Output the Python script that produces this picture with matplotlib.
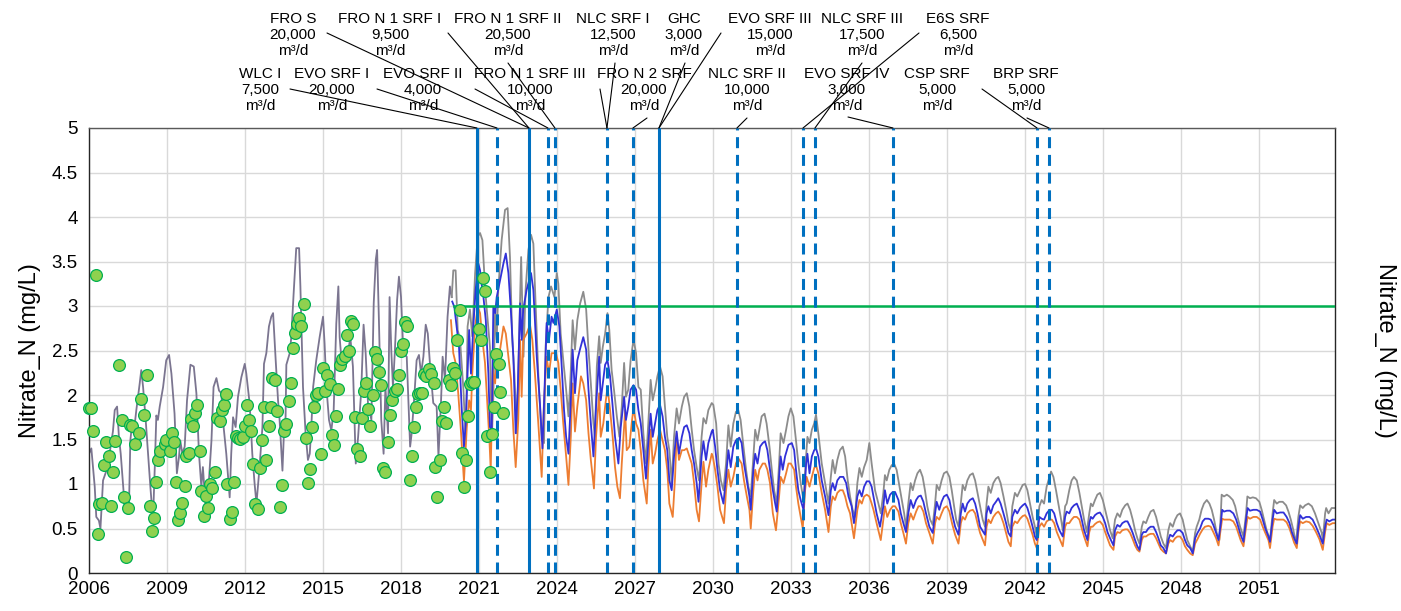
import numpy as np
import matplotlib
matplotlib.use("Agg")
import matplotlib.pyplot as plt
from matplotlib.ticker import FuncFormatter, MultipleLocator

plt.rcParams['font.family'] = ['Liberation Sans', 'DejaVu Sans']

# simulated history (year, mg/L)
gray_hist = [
    (2006.00, 1.34), (2006.09, 1.40), (2006.22, 0.97), (2006.28, 0.63), (2006.38, 0.59), (2006.44, 0.50),
    (2006.54, 1.04), (2006.67, 1.15), (2006.79, 1.34), (2006.92, 1.59), (2006.99, 1.83), (2007.08, 1.87),
    (2007.15, 1.53), (2007.22, 1.34), (2007.37, 0.76), (2007.44, 0.67), (2007.54, 0.78), (2007.59, 1.49),
    (2007.63, 1.60), (2007.72, 1.57), (2007.82, 1.83), (2007.95, 2.13), (2008.01, 2.28), (2008.08, 2.09),
    (2008.18, 1.72), (2008.27, 1.34), (2008.36, 0.97), (2008.46, 0.59), (2008.53, 1.19), (2008.59, 1.77),
    (2008.65, 1.72), (2008.72, 1.87), (2008.85, 2.09), (2008.91, 2.24), (2008.97, 2.39), (2009.08, 2.45),
    (2009.17, 2.24), (2009.29, 1.79), (2009.38, 1.12), (2009.46, 1.30), (2009.51, 1.49), (2009.59, 1.34),
    (2009.68, 1.42), (2009.77, 1.94), (2009.90, 2.34), (2010.03, 2.32), (2010.13, 2.02), (2010.23, 1.34),
    (2010.32, 0.97), (2010.38, 1.19), (2010.45, 0.89), (2010.51, 0.67), (2010.58, 0.89), (2010.71, 1.49),
    (2010.79, 2.09), (2010.90, 2.19), (2011.00, 2.05), (2011.09, 2.02), (2011.15, 1.72), (2011.28, 1.34),
    (2011.41, 0.85), (2011.47, 1.34), (2011.54, 1.75), (2011.64, 1.64), (2011.73, 1.98), (2011.86, 2.20),
    (2011.99, 2.35), (2012.05, 2.24), (2012.18, 1.90), (2012.28, 1.34), (2012.37, 1.00), (2012.44, 0.78),
    (2012.54, 1.12), (2012.67, 1.64), (2012.73, 2.35), (2012.82, 2.47), (2012.92, 2.77), (2013.01, 2.88),
    (2013.08, 2.92), (2013.18, 2.39), (2013.27, 1.94), (2013.33, 1.72), (2013.44, 1.15), (2013.50, 1.60),
    (2013.56, 1.75), (2013.59, 2.34), (2013.72, 2.47), (2013.78, 2.65), (2013.87, 3.14), (2013.97, 3.65),
    (2014.08, 3.65), (2014.13, 3.22), (2014.23, 2.09), (2014.33, 1.57), (2014.42, 1.27), (2014.49, 1.34),
    (2014.55, 1.64), (2014.62, 2.09), (2014.74, 2.39), (2014.87, 2.65), (2015.00, 2.88), (2015.06, 2.58),
    (2015.13, 2.09), (2015.23, 1.72), (2015.32, 1.60), (2015.41, 1.83), (2015.51, 2.80), (2015.59, 3.22),
    (2015.64, 2.65), (2015.74, 2.28), (2015.87, 2.35), (2015.96, 2.47), (2016.05, 2.65), (2016.15, 2.32),
    (2016.26, 1.23), (2016.35, 1.53), (2016.47, 2.05), (2016.56, 2.79), (2016.64, 2.47), (2016.73, 1.90),
    (2016.86, 1.72), (2016.95, 3.03), (2017.03, 3.52), (2017.08, 3.63), (2017.15, 2.84), (2017.24, 1.72),
    (2017.33, 1.34), (2017.40, 2.09), (2017.50, 1.57), (2017.56, 3.10), (2017.63, 2.47), (2017.69, 2.09),
    (2017.76, 2.47), (2017.85, 3.07), (2017.92, 3.33), (2018.00, 3.10), (2018.09, 2.47), (2018.22, 2.43),
    (2018.35, 1.42), (2018.41, 1.57), (2018.51, 1.98), (2018.60, 2.39), (2018.69, 2.45), (2018.77, 2.24),
    (2018.86, 2.43), (2018.95, 2.79), (2019.03, 2.69), (2019.12, 2.32), (2019.24, 1.91), (2019.37, 1.87),
    (2019.44, 1.31), (2019.54, 1.94), (2019.60, 2.43), (2019.69, 2.17), (2019.79, 2.88), (2019.88, 3.22),
    (2019.95, 3.10),
]

# upper projection (gray)
gray_proj = [
    (2019.95, 3.10), (2020.01, 3.40), (2020.10, 3.40), (2020.18, 2.73), (2020.27, 2.62), (2020.40, 2.06),
    (2020.49, 1.49), (2020.56, 2.77), (2020.65, 2.96), (2020.74, 2.66), (2020.85, 3.37), (2020.95, 3.78),
    (2021.04, 3.82), (2021.13, 3.74), (2021.23, 3.22), (2021.29, 2.99), (2021.42, 2.54), (2021.49, 1.49),
    (2021.55, 1.98), (2021.62, 2.99), (2021.68, 2.62), (2021.74, 3.18), (2021.87, 3.74), (2022.00, 4.08),
    (2022.10, 4.10), (2022.19, 3.55), (2022.28, 2.62), (2022.36, 2.24), (2022.45, 1.57), (2022.54, 2.62),
    (2022.62, 3.55), (2022.71, 2.43), (2022.79, 3.18), (2022.90, 3.63), (2023.00, 3.80), (2023.09, 3.70),
    (2023.18, 2.99), (2023.28, 2.24), (2023.41, 1.49), (2023.50, 1.46), (2023.56, 2.54), (2023.67, 3.10),
    (2023.77, 3.22), (2023.90, 3.10), (2023.99, 3.37), (2024.05, 3.25), (2024.14, 2.69), (2024.24, 2.39),
    (2024.35, 2.06), (2024.44, 1.76), (2024.53, 2.28), (2024.60, 2.84), (2024.69, 2.51), (2024.78, 2.84),
    (2024.89, 3.03), (2025.01, 3.16), (2025.12, 2.96), (2025.21, 2.51), (2025.30, 2.13), (2025.40, 1.68),
    (2025.46, 1.53), (2025.53, 2.32), (2025.62, 2.66), (2025.68, 2.36), (2025.76, 2.54), (2025.85, 2.69),
    (2025.94, 2.92), (2026.01, 2.73), (2026.10, 2.28), (2026.19, 2.06), (2026.30, 1.76), (2026.40, 1.53),
    (2026.49, 1.87), (2026.58, 2.36), (2026.65, 1.98), (2026.74, 2.06), (2026.83, 2.39), (2026.94, 2.62),
    (2027.04, 2.47), (2027.13, 2.09), (2027.22, 2.06), (2027.32, 1.57), (2027.42, 1.23), (2027.51, 1.68),
    (2027.60, 2.17), (2027.68, 1.94), (2027.77, 2.06), (2027.86, 2.21), (2027.96, 2.32), (2028.06, 2.21),
    (2028.15, 1.87), (2028.24, 1.53), (2028.32, 1.38), (2028.41, 1.01), (2028.50, 1.53), (2028.60, 1.85),
    (2028.69, 1.68), (2028.80, 1.87), (2028.89, 1.98), (2028.99, 2.02), (2029.09, 1.87), (2029.18, 1.61),
    (2029.27, 1.38), (2029.37, 1.19), (2029.46, 1.04), (2029.56, 1.53), (2029.63, 1.74), (2029.73, 1.68),
    (2029.82, 1.83), (2029.95, 1.91), (2030.01, 1.89), (2030.12, 1.68), (2030.21, 1.23), (2030.30, 1.04),
    (2030.40, 0.93), (2030.50, 1.23), (2030.59, 1.66), (2030.68, 1.42), (2030.78, 1.68), (2030.88, 1.81),
    (2030.97, 1.83), (2031.06, 1.72), (2031.17, 1.42), (2031.27, 1.16), (2031.36, 0.97), (2031.45, 0.86),
    (2031.55, 1.31), (2031.62, 1.61), (2031.71, 1.49), (2031.78, 1.61), (2031.87, 1.76), (2031.98, 1.79),
    (2032.06, 1.68), (2032.17, 1.42), (2032.26, 1.16), (2032.35, 0.93), (2032.45, 0.78), (2032.54, 1.23),
    (2032.60, 1.57), (2032.71, 1.46), (2032.81, 1.61), (2032.90, 1.76), (2032.99, 1.85), (2033.09, 1.76),
    (2033.19, 1.49), (2033.28, 1.23), (2033.37, 1.01), (2033.48, 0.82), (2033.56, 1.23), (2033.63, 1.53),
    (2033.71, 1.46), (2033.80, 1.61), (2033.89, 1.68), (2033.96, 1.78), (2034.05, 1.57), (2034.18, 1.23),
    (2034.31, 1.01), (2034.44, 0.78), (2034.53, 1.08), (2034.60, 1.27), (2034.69, 1.12), (2034.78, 1.27),
    (2034.88, 1.38), (2034.99, 1.42), (2035.08, 1.31), (2035.18, 1.04), (2035.27, 0.86), (2035.37, 0.71),
    (2035.46, 0.63), (2035.55, 1.01), (2035.63, 1.18), (2035.72, 1.08), (2035.81, 1.19), (2035.91, 1.27),
    (2036.01, 1.46), (2036.10, 1.23), (2036.23, 0.93), (2036.36, 0.78), (2036.45, 0.67), (2036.55, 0.90),
    (2036.61, 1.10), (2036.68, 1.04), (2036.78, 1.16), (2036.87, 1.21), (2036.96, 1.23), (2037.06, 1.16),
    (2037.17, 0.97), (2037.26, 0.82), (2037.35, 0.67), (2037.42, 0.52), (2037.51, 0.78), (2037.60, 1.01),
    (2037.68, 0.93), (2037.77, 1.04), (2037.86, 1.12), (2037.96, 1.16), (2038.06, 1.08), (2038.15, 0.93),
    (2038.24, 0.75), (2038.35, 0.60), (2038.45, 0.54), (2038.54, 0.78), (2038.60, 0.99), (2038.70, 0.93),
    (2038.79, 1.04), (2038.88, 1.12), (2038.99, 1.14), (2039.09, 1.08), (2039.18, 0.93), (2039.27, 0.75),
    (2039.35, 0.60), (2039.44, 0.52), (2039.53, 0.78), (2039.60, 0.99), (2039.69, 0.93), (2039.78, 1.04),
    (2039.88, 1.10), (2039.99, 1.12), (2040.08, 1.04), (2040.17, 0.90), (2040.27, 0.75), (2040.37, 0.60),
    (2040.46, 0.52), (2040.52, 0.78), (2040.59, 0.97), (2040.68, 0.90), (2040.78, 1.01), (2040.88, 1.06),
    (2040.97, 1.08), (2041.06, 1.01), (2041.17, 0.86), (2041.27, 0.71), (2041.36, 0.56), (2041.45, 0.48),
    (2041.51, 0.75), (2041.61, 0.90), (2041.70, 0.86), (2041.81, 0.93), (2041.91, 0.99), (2042.00, 1.00),
    (2042.09, 0.93), (2042.19, 0.78), (2042.29, 0.63), (2042.38, 0.52), (2042.45, 0.41), (2042.55, 0.75),
    (2042.64, 0.82), (2042.73, 0.78), (2042.83, 0.97), (2042.94, 1.08), (2043.00, 1.14), (2043.09, 1.08),
    (2043.19, 0.93), (2043.28, 0.78), (2043.37, 0.63), (2043.45, 0.48), (2043.54, 0.75), (2043.60, 0.78),
    (2043.70, 0.93), (2043.79, 1.04), (2043.88, 1.08), (2043.99, 1.04), (2044.09, 0.90), (2044.18, 0.75),
    (2044.27, 0.60), (2044.37, 0.46), (2044.47, 0.67), (2044.53, 0.78), (2044.60, 0.75), (2044.69, 0.82),
    (2044.78, 0.88), (2044.88, 0.90), (2044.99, 0.82), (2045.08, 0.71), (2045.17, 0.60), (2045.27, 0.48),
    (2045.37, 0.39), (2045.46, 0.60), (2045.55, 0.67), (2045.65, 0.63), (2045.74, 0.71), (2045.85, 0.76),
    (2045.94, 0.78), (2046.04, 0.71), (2046.14, 0.60), (2046.23, 0.48), (2046.32, 0.39), (2046.40, 0.33),
    (2046.49, 0.52), (2046.55, 0.58), (2046.65, 0.56), (2046.74, 0.63), (2046.83, 0.69), (2046.94, 0.71),
    (2047.04, 0.63), (2047.13, 0.52), (2047.22, 0.41), (2047.32, 0.33), (2047.42, 0.28), (2047.51, 0.48),
    (2047.58, 0.56), (2047.68, 0.52), (2047.77, 0.60), (2047.86, 0.65), (2047.96, 0.67), (2048.06, 0.60),
    (2048.15, 0.48), (2048.24, 0.37), (2048.35, 0.30), (2048.45, 0.24), (2048.54, 0.45), (2048.60, 0.52),
    (2048.70, 0.60), (2048.79, 0.71), (2048.88, 0.78), (2048.99, 0.82), (2049.09, 0.78), (2049.18, 0.71),
    (2049.27, 0.60), (2049.37, 0.45), (2049.47, 0.37), (2049.53, 0.67), (2049.56, 0.88), (2049.65, 0.86),
    (2049.76, 0.88), (2049.86, 0.86), (2049.99, 0.82), (2050.08, 0.75), (2050.17, 0.63), (2050.27, 0.52),
    (2050.40, 0.41), (2050.50, 0.67), (2050.55, 0.86), (2050.65, 0.84), (2050.76, 0.85), (2050.88, 0.84),
    (2051.01, 0.80), (2051.10, 0.71), (2051.19, 0.60), (2051.29, 0.48), (2051.42, 0.37), (2051.52, 0.67),
    (2051.58, 0.82), (2051.68, 0.78), (2051.78, 0.80), (2051.91, 0.80), (2052.04, 0.76), (2052.13, 0.69),
    (2052.22, 0.60), (2052.32, 0.48), (2052.42, 0.33), (2052.51, 0.63), (2052.58, 0.76), (2052.68, 0.73),
    (2052.77, 0.76), (2052.90, 0.78), (2053.03, 0.75), (2053.15, 0.67), (2053.28, 0.56), (2053.41, 0.45),
    (2053.45, 0.37), (2053.54, 0.67), (2053.58, 0.73), (2053.67, 0.67), (2053.79, 0.73), (2053.92, 0.73),
]

# middle projection (blue)
blue_proj = [
    (2019.97, 3.05), (2020.05, 2.99), (2020.14, 2.77), (2020.23, 2.54), (2020.33, 1.87), (2020.42, 1.42),
    (2020.49, 1.68), (2020.56, 2.24), (2020.62, 2.73), (2020.69, 2.24), (2020.78, 2.77), (2020.87, 3.18),
    (2020.97, 3.48), (2021.04, 3.40), (2021.10, 3.25), (2021.17, 3.10), (2021.26, 2.84), (2021.36, 2.24),
    (2021.42, 1.64), (2021.49, 1.61), (2021.55, 2.99), (2021.62, 2.92), (2021.68, 3.10), (2021.81, 3.29),
    (2021.94, 3.48), (2022.03, 3.59), (2022.13, 3.37), (2022.23, 2.92), (2022.32, 2.43), (2022.41, 1.57),
    (2022.49, 2.06), (2022.58, 3.03), (2022.64, 2.62), (2022.70, 2.96), (2022.83, 3.18), (2023.00, 3.37),
    (2023.09, 3.18), (2023.22, 2.43), (2023.35, 1.87), (2023.44, 1.40), (2023.54, 2.24), (2023.60, 2.81),
    (2023.69, 2.62), (2023.79, 2.88), (2023.86, 2.81), (2023.99, 2.96), (2024.09, 2.77), (2024.18, 2.32),
    (2024.27, 1.83), (2024.35, 1.53), (2024.44, 1.34), (2024.53, 1.94), (2024.60, 2.51), (2024.69, 2.02),
    (2024.78, 2.39), (2024.88, 2.51), (2025.01, 2.65), (2025.12, 2.51), (2025.21, 2.06), (2025.30, 1.68),
    (2025.40, 1.31), (2025.50, 1.87), (2025.62, 2.43), (2025.68, 1.94), (2025.76, 2.13), (2025.85, 2.34),
    (2025.94, 2.39), (2026.04, 2.21), (2026.14, 1.87), (2026.23, 1.53), (2026.36, 1.23), (2026.45, 1.64),
    (2026.58, 1.98), (2026.65, 1.72), (2026.74, 1.87), (2026.83, 2.06), (2026.94, 2.11), (2027.04, 2.06),
    (2027.13, 1.83), (2027.22, 1.68), (2027.32, 1.38), (2027.42, 1.06), (2027.51, 1.46), (2027.60, 1.79),
    (2027.68, 1.53), (2027.77, 1.68), (2027.86, 1.83), (2027.96, 1.89), (2028.06, 1.76), (2028.15, 1.53),
    (2028.24, 1.38), (2028.32, 1.04), (2028.41, 0.93), (2028.50, 1.31), (2028.60, 1.59), (2028.69, 1.34),
    (2028.80, 1.53), (2028.89, 1.64), (2028.99, 1.66), (2029.09, 1.57), (2029.18, 1.38), (2029.27, 1.23),
    (2029.37, 1.01), (2029.44, 0.80), (2029.56, 1.31), (2029.63, 1.48), (2029.73, 1.27), (2029.82, 1.46),
    (2029.95, 1.59), (2029.99, 1.61), (2030.08, 1.42), (2030.17, 1.16), (2030.27, 0.93), (2030.40, 0.78),
    (2030.50, 1.08), (2030.59, 1.38), (2030.68, 1.19), (2030.78, 1.42), (2030.88, 1.49), (2031.01, 1.52),
    (2031.10, 1.46), (2031.19, 1.23), (2031.30, 1.04), (2031.40, 0.86), (2031.45, 0.71), (2031.55, 1.16),
    (2031.62, 1.34), (2031.71, 1.23), (2031.81, 1.42), (2031.91, 1.46), (2032.00, 1.48), (2032.09, 1.38),
    (2032.19, 1.16), (2032.30, 0.93), (2032.39, 0.78), (2032.45, 0.69), (2032.54, 1.08), (2032.60, 1.31),
    (2032.68, 1.16), (2032.77, 1.31), (2032.90, 1.44), (2033.03, 1.46), (2033.12, 1.38), (2033.19, 1.16),
    (2033.28, 0.93), (2033.37, 0.82), (2033.48, 0.71), (2033.58, 1.23), (2033.63, 1.34), (2033.71, 1.12),
    (2033.80, 1.31), (2033.89, 1.38), (2033.96, 1.40), (2034.05, 1.31), (2034.18, 1.04), (2034.31, 0.86),
    (2034.44, 0.65), (2034.53, 0.93), (2034.60, 1.01), (2034.69, 0.93), (2034.78, 1.04), (2034.88, 1.08),
    (2035.01, 1.08), (2035.12, 1.01), (2035.21, 0.86), (2035.33, 0.75), (2035.42, 0.56), (2035.55, 0.86),
    (2035.63, 0.93), (2035.72, 0.86), (2035.81, 0.97), (2035.91, 1.03), (2036.01, 1.03), (2036.10, 0.97),
    (2036.17, 0.86), (2036.29, 0.67), (2036.42, 0.52), (2036.55, 0.75), (2036.61, 0.93), (2036.70, 0.78),
    (2036.81, 0.88), (2036.91, 0.91), (2037.00, 0.91), (2037.13, 0.82), (2037.22, 0.67), (2037.32, 0.56),
    (2037.42, 0.46), (2037.51, 0.67), (2037.60, 0.82), (2037.70, 0.73), (2037.81, 0.82), (2037.90, 0.86),
    (2037.99, 0.87), (2038.09, 0.80), (2038.19, 0.67), (2038.32, 0.52), (2038.45, 0.45), (2038.54, 0.67),
    (2038.60, 0.80), (2038.70, 0.71), (2038.79, 0.80), (2038.88, 0.86), (2038.99, 0.88), (2039.09, 0.82),
    (2039.19, 0.67), (2039.31, 0.52), (2039.44, 0.43), (2039.53, 0.67), (2039.60, 0.78), (2039.69, 0.69),
    (2039.78, 0.78), (2039.88, 0.82), (2039.99, 0.84), (2040.08, 0.78), (2040.17, 0.67), (2040.27, 0.52),
    (2040.46, 0.43), (2040.52, 0.67), (2040.59, 0.75), (2040.68, 0.67), (2040.78, 0.76), (2040.88, 0.80),
    (2040.97, 0.84), (2041.06, 0.78), (2041.17, 0.67), (2041.27, 0.56), (2041.36, 0.45), (2041.45, 0.41),
    (2041.51, 0.63), (2041.61, 0.71), (2041.70, 0.67), (2041.81, 0.73), (2041.91, 0.76), (2042.00, 0.78),
    (2042.09, 0.73), (2042.19, 0.63), (2042.29, 0.52), (2042.38, 0.41), (2042.45, 0.37), (2042.55, 0.63),
    (2042.64, 0.61), (2042.73, 0.60), (2042.83, 0.67), (2042.94, 0.71), (2043.03, 0.71), (2043.12, 0.67),
    (2043.22, 0.56), (2043.32, 0.48), (2043.45, 0.41), (2043.54, 0.63), (2043.60, 0.69), (2043.70, 0.67),
    (2043.79, 0.73), (2043.88, 0.76), (2043.99, 0.78), (2044.09, 0.71), (2044.18, 0.60), (2044.27, 0.48),
    (2044.40, 0.37), (2044.47, 0.56), (2044.53, 0.63), (2044.60, 0.61), (2044.69, 0.65), (2044.78, 0.67),
    (2044.88, 0.68), (2044.99, 0.63), (2045.08, 0.56), (2045.17, 0.46), (2045.27, 0.39), (2045.40, 0.31),
    (2045.46, 0.48), (2045.55, 0.54), (2045.65, 0.52), (2045.74, 0.56), (2045.85, 0.58), (2045.94, 0.58),
    (2046.04, 0.52), (2046.14, 0.45), (2046.23, 0.37), (2046.32, 0.30), (2046.40, 0.26), (2046.49, 0.43),
    (2046.55, 0.46), (2046.65, 0.46), (2046.74, 0.50), (2046.83, 0.52), (2046.94, 0.52), (2047.04, 0.46),
    (2047.13, 0.39), (2047.22, 0.31), (2047.32, 0.28), (2047.42, 0.22), (2047.51, 0.37), (2047.58, 0.43),
    (2047.68, 0.41), (2047.77, 0.45), (2047.86, 0.48), (2047.96, 0.48), (2048.06, 0.45), (2048.15, 0.37),
    (2048.24, 0.31), (2048.35, 0.28), (2048.45, 0.22), (2048.54, 0.39), (2048.63, 0.45), (2048.73, 0.50),
    (2048.83, 0.58), (2048.92, 0.61), (2049.05, 0.61), (2049.14, 0.60), (2049.24, 0.54), (2049.35, 0.45),
    (2049.44, 0.37), (2049.53, 0.56), (2049.58, 0.71), (2049.65, 0.69), (2049.76, 0.70), (2049.88, 0.70),
    (2050.01, 0.67), (2050.12, 0.60), (2050.20, 0.52), (2050.29, 0.43), (2050.40, 0.35), (2050.50, 0.60),
    (2050.56, 0.73), (2050.65, 0.70), (2050.78, 0.71), (2050.91, 0.71), (2051.04, 0.69), (2051.14, 0.60),
    (2051.24, 0.50), (2051.36, 0.41), (2051.42, 0.35), (2051.52, 0.60), (2051.58, 0.71), (2051.68, 0.67),
    (2051.81, 0.68), (2051.94, 0.68), (2052.06, 0.63), (2052.17, 0.56), (2052.26, 0.46), (2052.35, 0.39),
    (2052.45, 0.33), (2052.51, 0.52), (2052.58, 0.65), (2052.68, 0.61), (2052.81, 0.63), (2052.94, 0.63),
    (2053.06, 0.60), (2053.19, 0.52), (2053.32, 0.43), (2053.45, 0.33), (2053.54, 0.52), (2053.60, 0.60),
    (2053.70, 0.58), (2053.83, 0.60), (2053.92, 0.60),
]

# lower projection (orange)
orange_proj = [
    (2019.92, 2.84), (2020.01, 2.47), (2020.10, 2.36), (2020.20, 2.02), (2020.31, 1.57), (2020.42, 1.03),
    (2020.53, 1.64), (2020.62, 1.94), (2020.69, 1.83), (2020.74, 2.24), (2020.85, 2.77), (2020.95, 2.99),
    (2021.04, 2.92), (2021.13, 2.62), (2021.23, 2.36), (2021.29, 2.06), (2021.40, 1.49), (2021.45, 1.16),
    (2021.53, 2.28), (2021.62, 2.13), (2021.68, 2.47), (2021.81, 2.51), (2021.94, 2.77), (2022.03, 2.69),
    (2022.13, 2.43), (2022.23, 2.17), (2022.32, 1.61), (2022.41, 1.19), (2022.51, 1.72), (2022.58, 2.62),
    (2022.64, 1.98), (2022.70, 2.62), (2022.83, 2.69), (2022.96, 2.79), (2023.05, 2.62), (2023.15, 2.24),
    (2023.28, 1.68), (2023.41, 1.08), (2023.50, 1.94), (2023.60, 2.43), (2023.69, 2.24), (2023.79, 2.47),
    (2023.96, 2.47), (2024.05, 2.36), (2024.14, 2.06), (2024.24, 1.68), (2024.35, 1.31), (2024.44, 0.99),
    (2024.53, 1.53), (2024.60, 2.13), (2024.69, 1.59), (2024.78, 1.87), (2024.92, 2.21), (2025.01, 2.13),
    (2025.12, 1.94), (2025.21, 1.57), (2025.30, 1.27), (2025.42, 0.95), (2025.50, 1.53), (2025.62, 2.02),
    (2025.68, 1.53), (2025.78, 1.68), (2025.85, 1.87), (2025.94, 2.09), (2026.04, 1.83), (2026.14, 1.53),
    (2026.23, 1.19), (2026.32, 0.97), (2026.42, 0.84), (2026.49, 1.23), (2026.62, 1.83), (2026.68, 1.38),
    (2026.78, 1.42), (2026.87, 1.68), (2026.94, 1.85), (2027.04, 1.68), (2027.13, 1.61), (2027.22, 1.38),
    (2027.32, 1.04), (2027.45, 0.78), (2027.51, 1.19), (2027.60, 1.61), (2027.68, 1.23), (2027.77, 1.34),
    (2027.86, 1.49), (2027.96, 1.61), (2028.06, 1.49), (2028.15, 1.38), (2028.24, 1.16), (2028.32, 0.78),
    (2028.45, 0.63), (2028.54, 1.08), (2028.60, 1.57), (2028.69, 1.27), (2028.80, 1.38), (2028.89, 1.38),
    (2028.99, 1.40), (2029.09, 1.31), (2029.18, 1.23), (2029.27, 1.01), (2029.37, 0.71), (2029.46, 0.58),
    (2029.56, 1.01), (2029.63, 1.25), (2029.73, 0.97), (2029.82, 1.16), (2029.95, 1.34), (2029.99, 1.31),
    (2030.08, 1.16), (2030.17, 0.97), (2030.27, 0.71), (2030.42, 0.56), (2030.50, 0.93), (2030.59, 1.16),
    (2030.68, 0.97), (2030.78, 1.08), (2030.88, 1.23), (2030.97, 1.29), (2031.10, 1.23), (2031.19, 1.04),
    (2031.30, 0.86), (2031.40, 0.71), (2031.45, 0.50), (2031.55, 0.93), (2031.62, 1.16), (2031.71, 1.04),
    (2031.78, 1.16), (2031.91, 1.23), (2032.00, 1.23), (2032.09, 1.16), (2032.19, 1.01), (2032.30, 0.67),
    (2032.42, 0.48), (2032.54, 0.86), (2032.60, 1.08), (2032.71, 1.01), (2032.81, 1.12), (2032.90, 1.23),
    (2032.99, 1.23), (2033.12, 1.16), (2033.19, 0.97), (2033.28, 0.78), (2033.37, 0.63), (2033.45, 0.50),
    (2033.54, 0.93), (2033.60, 1.08), (2033.71, 0.97), (2033.80, 1.08), (2033.89, 1.18), (2033.96, 1.21),
    (2034.05, 1.12), (2034.18, 0.90), (2034.31, 0.71), (2034.44, 0.46), (2034.53, 0.75), (2034.60, 0.86),
    (2034.69, 0.82), (2034.78, 0.90), (2034.88, 0.93), (2034.99, 0.93), (2035.08, 0.86), (2035.17, 0.75),
    (2035.27, 0.67), (2035.42, 0.39), (2035.55, 0.71), (2035.63, 0.82), (2035.72, 0.78), (2035.81, 0.86),
    (2035.91, 0.88), (2036.01, 0.86), (2036.10, 0.78), (2036.17, 0.71), (2036.29, 0.56), (2036.45, 0.37),
    (2036.55, 0.60), (2036.61, 0.75), (2036.70, 0.63), (2036.81, 0.71), (2036.91, 0.75), (2037.00, 0.75),
    (2037.13, 0.69), (2037.22, 0.56), (2037.32, 0.45), (2037.42, 0.33), (2037.51, 0.56), (2037.60, 0.67),
    (2037.70, 0.60), (2037.81, 0.69), (2037.90, 0.75), (2037.99, 0.75), (2038.09, 0.69), (2038.19, 0.56),
    (2038.32, 0.45), (2038.45, 0.33), (2038.54, 0.56), (2038.60, 0.63), (2038.70, 0.60), (2038.79, 0.67),
    (2038.88, 0.73), (2038.99, 0.75), (2039.09, 0.69), (2039.19, 0.56), (2039.31, 0.43), (2039.44, 0.33),
    (2039.53, 0.56), (2039.60, 0.63), (2039.69, 0.60), (2039.78, 0.67), (2039.88, 0.70), (2039.99, 0.71),
    (2040.08, 0.67), (2040.17, 0.56), (2040.27, 0.45), (2040.46, 0.31), (2040.52, 0.52), (2040.59, 0.60),
    (2040.68, 0.56), (2040.78, 0.63), (2040.88, 0.67), (2040.97, 0.69), (2041.06, 0.65), (2041.17, 0.56),
    (2041.27, 0.45), (2041.36, 0.35), (2041.45, 0.30), (2041.51, 0.52), (2041.61, 0.58), (2041.70, 0.56),
    (2041.81, 0.61), (2041.91, 0.64), (2042.00, 0.65), (2042.09, 0.61), (2042.19, 0.52), (2042.29, 0.43),
    (2042.38, 0.33), (2042.45, 0.28), (2042.55, 0.52), (2042.64, 0.56), (2042.73, 0.52), (2042.83, 0.58),
    (2042.94, 0.60), (2043.03, 0.60), (2043.12, 0.56), (2043.22, 0.46), (2043.32, 0.39), (2043.45, 0.30),
    (2043.54, 0.52), (2043.60, 0.56), (2043.70, 0.56), (2043.79, 0.60), (2043.88, 0.63), (2043.99, 0.63),
    (2044.09, 0.60), (2044.18, 0.50), (2044.27, 0.41), (2044.40, 0.30), (2044.47, 0.46), (2044.53, 0.52),
    (2044.60, 0.52), (2044.69, 0.55), (2044.78, 0.57), (2044.88, 0.58), (2044.99, 0.54), (2045.08, 0.46),
    (2045.17, 0.39), (2045.27, 0.31), (2045.40, 0.26), (2045.46, 0.41), (2045.55, 0.46), (2045.65, 0.45),
    (2045.74, 0.48), (2045.85, 0.49), (2045.94, 0.49), (2046.04, 0.45), (2046.14, 0.38), (2046.23, 0.31),
    (2046.32, 0.26), (2046.40, 0.24), (2046.49, 0.37), (2046.55, 0.41), (2046.65, 0.41), (2046.74, 0.43),
    (2046.83, 0.44), (2046.94, 0.44), (2047.04, 0.39), (2047.13, 0.33), (2047.22, 0.27), (2047.32, 0.24),
    (2047.42, 0.22), (2047.51, 0.33), (2047.58, 0.37), (2047.68, 0.35), (2047.77, 0.39), (2047.86, 0.41),
    (2047.96, 0.41), (2048.06, 0.37), (2048.15, 0.30), (2048.24, 0.26), (2048.35, 0.22), (2048.45, 0.20),
    (2048.54, 0.33), (2048.63, 0.38), (2048.73, 0.44), (2048.83, 0.49), (2048.92, 0.52), (2049.05, 0.53),
    (2049.14, 0.52), (2049.24, 0.46), (2049.35, 0.39), (2049.44, 0.31), (2049.53, 0.50), (2049.58, 0.61),
    (2049.65, 0.60), (2049.76, 0.60), (2049.88, 0.60), (2050.01, 0.58), (2050.12, 0.52), (2050.20, 0.45),
    (2050.29, 0.37), (2050.40, 0.30), (2050.50, 0.52), (2050.56, 0.63), (2050.65, 0.61), (2050.78, 0.63),
    (2050.91, 0.63), (2051.04, 0.60), (2051.14, 0.52), (2051.24, 0.45), (2051.36, 0.37), (2051.42, 0.28),
    (2051.52, 0.52), (2051.58, 0.61), (2051.68, 0.60), (2051.81, 0.60), (2051.94, 0.60), (2052.06, 0.57),
    (2052.17, 0.50), (2052.26, 0.42), (2052.35, 0.34), (2052.45, 0.28), (2052.51, 0.46), (2052.58, 0.58),
    (2052.68, 0.56), (2052.81, 0.58), (2052.94, 0.57), (2053.06, 0.53), (2053.19, 0.46), (2053.32, 0.38),
    (2053.45, 0.26), (2053.54, 0.46), (2053.60, 0.56), (2053.70, 0.54), (2053.83, 0.56), (2053.92, 0.56),
]

# observed samples (year, mg/L)
observed = [
    (2006.00, 1.85), (2006.09, 1.85), (2006.15, 1.59), (2006.26, 3.35), (2006.35, 0.44), (2006.38, 0.78),
    (2006.51, 0.79), (2006.58, 1.21), (2006.67, 1.47), (2006.76, 1.32), (2006.83, 0.75), (2006.92, 1.13),
    (2007.01, 1.48), (2007.15, 2.34), (2007.26, 1.72), (2007.33, 0.85), (2007.42, 0.18), (2007.50, 0.73),
    (2007.56, 1.66), (2007.67, 1.65), (2007.76, 1.45), (2007.92, 1.57), (2008.00, 1.95), (2008.10, 1.78),
    (2008.24, 2.22), (2008.33, 0.75), (2008.42, 0.47), (2008.50, 0.62), (2008.59, 1.02), (2008.67, 1.27),
    (2008.74, 1.37), (2008.91, 1.45), (2008.97, 1.49), (2009.10, 1.37), (2009.19, 1.57), (2009.26, 1.47),
    (2009.35, 1.02), (2009.42, 0.59), (2009.51, 0.67), (2009.59, 0.79), (2009.68, 0.98), (2009.74, 1.32),
    (2009.83, 1.35), (2009.91, 1.73), (2010.00, 1.65), (2010.08, 1.80), (2010.17, 1.89), (2010.26, 1.37),
    (2010.32, 0.92), (2010.41, 0.64), (2010.49, 0.87), (2010.59, 0.73), (2010.67, 1.00), (2010.74, 0.96),
    (2010.83, 1.14), (2010.92, 1.74), (2011.03, 1.71), (2011.10, 1.83), (2011.18, 1.89), (2011.26, 2.01),
    (2011.32, 1.00), (2011.41, 0.61), (2011.50, 0.69), (2011.58, 1.02), (2011.67, 1.54), (2011.73, 1.52),
    (2011.82, 1.51), (2011.92, 1.53), (2012.00, 1.65), (2012.09, 1.89), (2012.15, 1.72), (2012.24, 1.60),
    (2012.31, 1.23), (2012.40, 0.78), (2012.50, 0.72), (2012.56, 1.18), (2012.65, 1.50), (2012.72, 1.86),
    (2012.82, 1.27), (2012.91, 1.65), (2012.99, 1.87), (2013.05, 2.19), (2013.17, 2.17), (2013.24, 1.82),
    (2013.33, 0.74), (2013.42, 0.99), (2013.50, 1.60), (2013.59, 1.67), (2013.68, 1.93), (2013.76, 2.13),
    (2013.85, 2.53), (2013.92, 2.70), (2014.00, 2.80), (2014.08, 2.86), (2014.17, 2.77), (2014.26, 3.02),
    (2014.33, 1.52), (2014.41, 1.01), (2014.49, 1.17), (2014.58, 1.64), (2014.65, 1.87), (2014.74, 2.00),
    (2014.82, 2.02), (2014.91, 1.34), (2015.00, 2.30), (2015.08, 2.05), (2015.17, 2.22), (2015.26, 2.12),
    (2015.35, 1.55), (2015.41, 1.44), (2015.49, 1.76), (2015.59, 2.07), (2015.67, 2.34), (2015.74, 2.41),
    (2015.83, 2.44), (2015.92, 2.67), (2016.00, 2.50), (2016.08, 2.83), (2016.15, 2.80), (2016.23, 1.75),
    (2016.32, 1.39), (2016.41, 1.32), (2016.50, 1.74), (2016.58, 2.04), (2016.67, 2.13), (2016.74, 1.84),
    (2016.82, 1.65), (2016.92, 2.00), (2017.00, 2.48), (2017.08, 2.40), (2017.15, 2.26), (2017.24, 2.11),
    (2017.31, 1.18), (2017.40, 1.13), (2017.50, 1.47), (2017.58, 1.77), (2017.67, 1.94), (2017.76, 2.04),
    (2017.83, 2.07), (2017.92, 2.23), (2018.00, 2.49), (2018.08, 2.57), (2018.15, 2.82), (2018.24, 2.77),
    (2018.33, 1.05), (2018.41, 1.32), (2018.50, 1.64), (2018.58, 1.86), (2018.65, 2.01), (2018.74, 2.02),
    (2018.82, 2.02), (2018.87, 2.24), (2018.97, 2.21), (2019.06, 2.29), (2019.15, 2.24), (2019.26, 2.13),
    (2019.32, 1.19), (2019.40, 0.85), (2019.49, 1.27), (2019.58, 1.71), (2019.65, 1.86), (2019.74, 1.69),
    (2019.83, 2.17), (2019.91, 2.11), (2020.00, 2.30), (2020.09, 2.25), (2020.17, 2.62), (2020.26, 2.96),
    (2020.33, 1.35), (2020.41, 0.97), (2020.49, 1.27), (2020.58, 1.76), (2020.67, 2.12), (2020.74, 2.15),
    (2020.82, 2.15), (2021.00, 2.74), (2021.06, 2.62), (2021.15, 3.32), (2021.24, 3.17), (2021.32, 1.54),
    (2021.41, 1.14), (2021.50, 1.56), (2021.58, 1.86), (2021.67, 2.46), (2021.77, 2.35), (2021.82, 2.03),
    (2021.92, 1.80),
]

threshold = 3.0
threshold_start = 2020.05

# well field start dates
solid_starts = [2020.92, 2022.92, 2027.92]
dashed_starts = [2021.69, 2023.65, 2023.92, 2025.92, 2026.92, 2030.92, 2033.46, 2033.92,
                 2036.92, 2042.46, 2042.92]

top_names = ["FRO S", "FRO N 1 SRF I", "FRO N 1 SRF II", "NLC SRF I", "GHC",
             "EVO SRF III", "NLC SRF III", "E6S SRF"]
top_flows = ["20,000", "9,500", "20,500", "12,500", "3,000", "15,000", "17,500", "6,500"]
bottom_names = ["WLC I", "EVO SRF I", "EVO SRF II", "FRO N 1 SRF III", "FRO N 2 SRF",
                "NLC SRF II", "EVO SRF IV", "CSP SRF", "BRP SRF"]
bottom_flows = ["7,500", "20,000", "4,000", "10,000", "20,000", "10,000", "3,000", "5,000", "5,000"]

# label layout (figure pixels from top-left)
top_label_x = [293, 390, 508, 613, 684, 770, 862, 958]
bottom_label_x = [260, 332, 423, 530, 644, 747, 847, 937, 1026]
top_label_y = 35
bottom_label_y = 90

# leader lines: start (px from top-left) -> start year at top of plot
leaders = [
    (327, 33, 2022.92), (448, 33, 2022.92), (508, 63, 2023.92), (615, 63, 2025.92),
    (685, 63, 2027.92), (721, 33, 2027.92), (862, 63, 2033.92), (919, 33, 2033.46),
    (290, 89, 2020.92), (377, 89, 2021.69), (475, 89, 2023.65), (600, 89, 2025.92),
    (647, 118, 2026.92), (747, 118, 2030.92), (848, 117, 2036.92), (982, 89, 2042.46),
    (1027, 118, 2042.92),
]

W, H = 1401, 611
fig = plt.figure(figsize=(W / 100, H / 100), dpi=100)
ax = fig.add_axes([89 / W, 1 - 573 / H, (1335 - 89) / W, (573 - 128) / H])

ax.set_xlim(2006, 2053.92)
ax.set_ylim(0, 5)
ax.xaxis.set_major_locator(MultipleLocator(3))
ax.yaxis.set_major_locator(MultipleLocator(0.5))
ax.grid(True, color='#d9d9d9', lw=1.0, zorder=0)
ax.set_axisbelow(True)

for name, sp in ax.spines.items():
    sp.set_color('#262626')
    sp.set_linewidth(1.0)
ax.spines['top'].set_color('#595959')

gx, gy = np.array(gray_hist).T
ax.plot(gx, gy, color='#7b7590', lw=1.3, zorder=2)
px, py = np.array(gray_proj).T
ax.plot(px, py, color='#8c8c8c', lw=1.3, zorder=2)
ox, oy = np.array(orange_proj).T
ax.plot(ox, oy, color='#ed7d31', lw=1.3, zorder=2.2)
bx, by = np.array(blue_proj).T
ax.plot(bx, by, color='#3131d8', lw=1.3, zorder=2.4)
ax.plot([threshold_start, 2053.92], [threshold, threshold], color='#00b050', lw=1.8, zorder=2.6)

for yr in solid_starts:
    ax.axvline(yr, color='#0070c0', lw=2.2, zorder=2.8)
for yr in dashed_starts:
    ax.axvline(yr, color='#0070c0', lw=2.2, ls=(0, (3.6, 2.2)), zorder=2.8)

sx, sy = np.array(observed).T
ax.scatter(sx, sy, s=72, facecolor='#8fd14f', edgecolor='#00b050', linewidth=0.9, zorder=5,
           clip_on=False)

fmt = FuncFormatter(lambda v, p: f"{v:g}")
ax.yaxis.set_major_formatter(fmt)
ax.tick_params(axis='both', length=0, labelsize=13.5, pad=6)
ax.tick_params(axis='y', labelright=True, pad=8)
ax.set_xticks(np.arange(2006, 2052, 3))
ax.set_ylabel("Nitrate_N (mg/L)", fontsize=17, labelpad=8)

ax2 = ax.twinx()
ax2.set_ylim(0, 5)
ax2.set_yticks([])
ax2.set_ylabel("Nitrate_N (mg/L)", fontsize=17, rotation=270, labelpad=44)
for sp in ax2.spines.values():
    sp.set_visible(False)

for nm, fl, x in zip(top_names, top_flows, top_label_x):
    fig.text(x / W, 1 - top_label_y / H, f"{nm}\n{fl}\nm³/d", ha='center', va='center',
             fontsize=11, linespacing=1.2)
for nm, fl, x in zip(bottom_names, bottom_flows, bottom_label_x):
    fig.text(x / W, 1 - bottom_label_y / H, f"{nm}\n{fl}\nm³/d", ha='center', va='center',
             fontsize=11, linespacing=1.2)

for x0, y0, yr in leaders:
    ax.annotate('', xy=(yr, 5), xycoords='data', xytext=(x0, H - y0),
                textcoords='figure pixels', annotation_clip=False,
                arrowprops=dict(arrowstyle='-', color='black', lw=0.8, shrinkA=0, shrinkB=0))

fig.savefig("out.png", dpi=100)
